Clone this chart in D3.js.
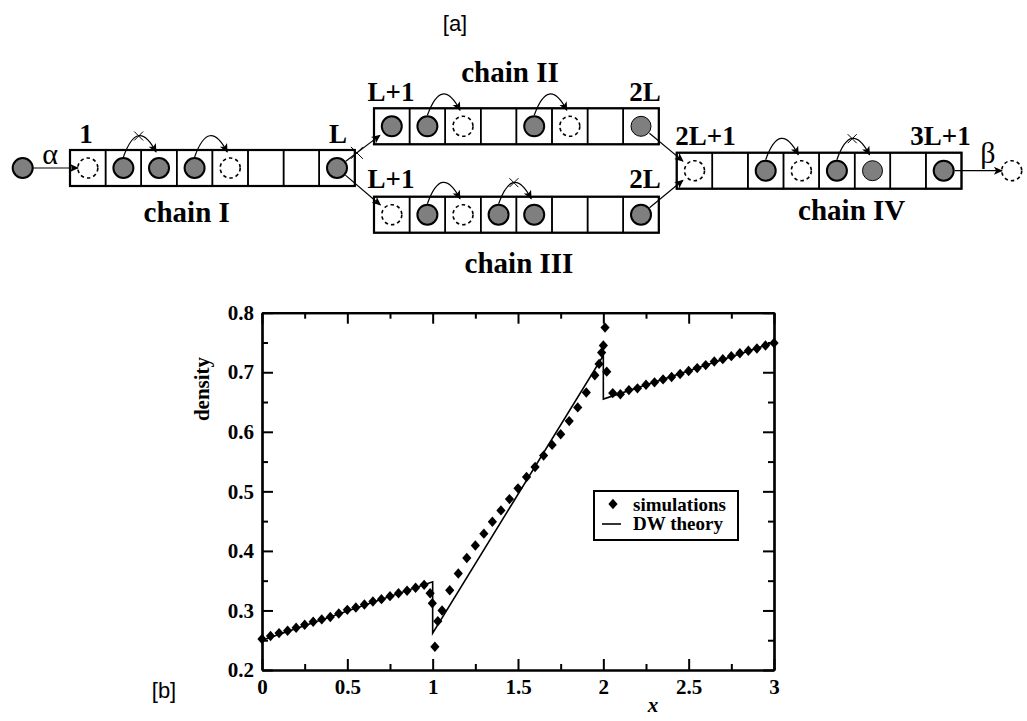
<!DOCTYPE html>
<html lang="en">
<head>
<meta charset="UTF-8">
<title>density</title>
<script src="https://cdn.jsdelivr.net/npm/d3@7"></script>
<style>
  body { margin: 0; background: #fff; }
  svg { display: block; }
</style>
</head>
<body>
<div id="workspace"></div>
<script>
// ---- panel [b] data ----
const simX = [0, 0.05, 0.1, 0.15, 0.2, 0.25, 0.3, 0.35, 0.4, 0.45, 0.5, 0.55, 0.6, 0.65, 0.7, 0.75, 0.8, 0.85, 0.9, 0.95,
  0.985, 0.998, 1.013, 1.03, 1.055,
  1.1, 1.15, 1.2, 1.25, 1.3, 1.35, 1.4, 1.45, 1.5, 1.55, 1.6, 1.65, 1.7, 1.75, 1.8, 1.85, 1.9, 1.95,
  1.975, 1.99, 2.0, 2.01, 2.02,
  2.055, 2.1, 2.15, 2.2, 2.25, 2.3, 2.35, 2.4, 2.45, 2.5, 2.55, 2.6, 2.65, 2.7, 2.75, 2.8, 2.85, 2.9, 2.95, 3.0];
const simY = [0.252, 0.257, 0.262, 0.266, 0.271, 0.276, 0.281, 0.285, 0.289, 0.295, 0.301, 0.305, 0.310, 0.315, 0.319, 0.324, 0.329, 0.333, 0.338, 0.343,
  0.329, 0.312, 0.239, 0.282, 0.300,
  0.334, 0.362, 0.388, 0.409, 0.429, 0.449, 0.468, 0.487, 0.505, 0.524, 0.541, 0.560, 0.578, 0.596, 0.618, 0.641, 0.666, 0.695,
  0.714, 0.733, 0.745, 0.775, 0.701,
  0.665, 0.663, 0.670, 0.673, 0.679, 0.683, 0.688, 0.692, 0.697, 0.702, 0.707, 0.712, 0.718, 0.722, 0.727, 0.732, 0.736, 0.740, 0.745, 0.749];
const theoryX = [0, 1, 1, 2, 2, 3];
const theoryY = [0.25, 0.348, 0.262, 0.728, 0.655, 0.75];
const xTicks = [0, 0.5, 1, 1.5, 2, 2.5, 3];
const xMinor = [0.25, 0.75, 1.25, 1.75, 2.25, 2.75];
const yTicks = [0.2, 0.3, 0.4, 0.5, 0.6, 0.7, 0.8];
const yMinor = [0.25, 0.35, 0.45, 0.55, 0.65, 0.75];
const legendLabels = ["simulations", "DW theory"];

// ---- panel [a] data: cell states (o filled, g filled thin, d dashed, e empty), hops [from, blocked] ----
const chainNames = ["chain I", "chain II", "chain III", "chain IV"];
const chainICells = ["d", "o", "o", "o", "d", "e", "e", "o"];
const chainIICells = ["o", "o", "d", "e", "o", "d", "e", "g"];
const chainIIICells = ["d", "o", "d", "o", "o", "e", "e", "o"];
const chainIVCells = ["d", "e", "o", "d", "o", "g", "e", "o"];
const chainIHops = [[1, true], [3, false]];
const chainIIHops = [[1, false], [4, false]];
const chainIIIHops = [[1, false], [3, true]];
const chainIVHops = [[2, false], [4, true]];

const W = 1027, H = 721;
const serif = "'Liberation Serif', 'Times New Roman', serif";
const sans = "'Liberation Sans', Arial, sans-serif";

const svg = d3.select("#workspace").append("svg")
  .attr("width", W).attr("height", H)
  .style("background", "#fff");

svg.append("defs").append("marker")
  .attr("id", "arr")
  .attr("viewBox", "0 0 10 10")
  .attr("refX", 9).attr("refY", 5)
  .attr("markerWidth", 12).attr("markerHeight", 9)
  .attr("markerUnits", "userSpaceOnUse")
  .attr("orient", "auto")
  .append("path").attr("d", "M0,0.5 L10,5 L0,9.5 L2.5,5 Z").attr("fill", "#000");

// ================= panel [a] =================
const cellW = 35.6, cellH = 36, R = 10;
const gray = "#7f7f7f";

function cross(g, cx, cy, s) {
  g.append("path")
    .attr("d", `M${cx - s},${cy - s}L${cx + s},${cy + s}M${cx - s},${cy + s}L${cx + s},${cy - s}`)
    .attr("stroke", "#000").attr("stroke-width", 1);
}

function drawChain(cells, hops, x0, y0) {
  const g = svg.append("g");
  const cx = i => x0 + cellW * (i + 0.5);
  const cy = y0 + cellH / 2;
  g.selectAll("rect")
    .data(cells)
    .join("rect")
    .attr("x", (d, i) => x0 + i * cellW).attr("y", y0)
    .attr("width", cellW).attr("height", cellH)
    .attr("fill", "none").attr("stroke", "#000").attr("stroke-width", 1.5);
  g.append("rect")
    .attr("x", x0).attr("y", y0)
    .attr("width", cellW * cells.length).attr("height", cellH)
    .attr("fill", "none").attr("stroke", "#000").attr("stroke-width", 2.2);
  g.selectAll("circle")
    .data(cells.map((c, i) => ({ c, i })).filter(d => d.c !== "e"))
    .join("circle")
    .attr("cx", d => cx(d.i)).attr("cy", cy).attr("r", R)
    .attr("fill", d => d.c === "d" ? "none" : gray)
    .attr("stroke", "#000")
    .attr("stroke-width", d => d.c === "o" ? 2 : d.c === "g" ? 1 : 1.6)
    .attr("stroke-dasharray", d => d.c === "d" ? "3.5,3" : null);
  hops.forEach(([i, blocked]) => {
    const xs = cx(i), ys = cy - R - 1;
    const xe = cx(i + 1) - 3, ye = y0 + 2;
    g.append("path")
      .attr("d", `M${xs},${ys} Q${(xs + xe) / 2 - 2},${y0 - 33} ${xe},${ye}`)
      .attr("fill", "none").attr("stroke", "#000").attr("stroke-width", 1.2)
      .attr("marker-end", "url(#arr)");
    if (blocked) cross(g, (xs + xe) / 2 - 1, y0 - 14, 4.5);
  });
  return { cx, cy };
}

const cI = drawChain(chainICells, chainIHops, 70, 150);
const cII = drawChain(chainIICells, chainIIHops, 374, 108.3);
const cIII = drawChain(chainIIICells, chainIIIHops, 374, 196.7);
const cIV = drawChain(chainIVCells, chainIVHops, 676.7, 152.7);

function link(a, ia, b, ib, blocked) {
  const ax = a.cx(ia), ay = a.cy, bx = b.cx(ib), by = b.cy;
  const len = Math.hypot(bx - ax, by - ay);
  const ux = (bx - ax) / len, uy = (by - ay) / len;
  const x1 = ax + ux * (R + 1), y1 = ay + uy * (R + 1);
  const x2 = bx - ux * (R + 5), y2 = by - uy * (R + 5);
  svg.append("line")
    .attr("x1", x1).attr("y1", y1).attr("x2", x2).attr("y2", y2)
    .attr("stroke", "#000").attr("stroke-width", 1.2)
    .attr("marker-end", "url(#arr)");
  if (blocked) cross(svg, x1 + ux * 14, y1 + uy * 14, 6);
}
link(cI, 7, cII, 0, true);
link(cI, 7, cIII, 0, false);
link(cII, 7, cIV, 0, false);
link(cIII, 7, cIV, 0, false);

// entry and exit particles
svg.append("circle").attr("cx", 22.7).attr("cy", cI.cy).attr("r", R)
  .attr("fill", gray).attr("stroke", "#000").attr("stroke-width", 2);
svg.append("line").attr("x1", 33).attr("y1", cI.cy).attr("x2", 78).attr("y2", cI.cy)
  .attr("stroke", "#000").attr("stroke-width", 1.2).attr("marker-end", "url(#arr)");
svg.append("line").attr("x1", cIV.cx(7) + R + 1).attr("y1", cIV.cy).attr("x2", 1002).attr("y2", cIV.cy)
  .attr("stroke", "#000").attr("stroke-width", 1.2).attr("marker-end", "url(#arr)");
svg.append("circle").attr("cx", 1011.7).attr("cy", cIV.cy).attr("r", R)
  .attr("fill", "none").attr("stroke", "#000").attr("stroke-width", 1.6).attr("stroke-dasharray", "3.5,3");

const greek = [["α", 50, 163.5], ["β", 988, 163]];
svg.selectAll("text.greek").data(greek).join("text")
  .attr("class", "greek")
  .attr("x", d => d[1]).attr("y", d => d[2])
  .attr("text-anchor", "middle")
  .style("font-family", serif).style("font-size", "30px")
  .text(d => d[0]);

const siteLabels = [
  ["1", 86, 143], ["L", 338, 143],
  ["L+1", 391, 100.7], ["2L", 645, 100.7],
  ["L+1", 391, 188.3], ["2L", 645, 188.3],
  ["2L+1", 705.5, 145], ["3L+1", 940.5, 145]
];
svg.selectAll("text.site").data(siteLabels).join("text")
  .attr("class", "site")
  .attr("x", d => d[1]).attr("y", d => d[2])
  .attr("text-anchor", "middle")
  .style("font-family", serif).style("font-weight", "bold").style("font-size", "27px")
  .text(d => d[0]);

const namePos = [[186.7, 221.7], [510, 82], [519, 273.3], [851.7, 220]];
svg.selectAll("text.name").data(chainNames).join("text")
  .attr("class", "name")
  .attr("x", (d, i) => namePos[i][0]).attr("y", (d, i) => namePos[i][1])
  .attr("text-anchor", "middle")
  .style("font-family", serif).style("font-weight", "bold").style("font-size", "29px")
  .text(d => d);

svg.append("text").attr("x", 455).attr("y", 31).attr("text-anchor", "middle")
  .style("font-family", sans).style("font-size", "22px").text("[a]");
svg.append("text").attr("x", 164).attr("y", 698).attr("text-anchor", "middle")
  .style("font-family", sans).style("font-size", "22px").text("[b]");

// ================= panel [b] =================
const x = d3.scaleLinear().domain([0, 3]).range([262, 774]);
const y = d3.scaleLinear().domain([0.2, 0.8]).range([670, 312.7]);
const pLeft = x.range()[0], pRight = x.range()[1], pTop = y.range()[1], pBottom = y.range()[0];

function styleAxis(g) {
  g.select(".domain").attr("stroke-width", 2.2);
  g.selectAll(".tick line").attr("stroke-width", 2);
  g.selectAll("text")
    .style("font-family", serif).style("font-weight", "bold").style("font-size", "21px")
    .attr("fill", "#000");
}

const fmt = d => String(d);
svg.append("g").attr("transform", `translate(0,${pBottom})`)
  .call(d3.axisBottom(x).tickValues(xTicks).tickFormat(fmt).tickSize(-11).tickSizeOuter(0).tickPadding(9))
  .call(styleAxis);
svg.append("g").attr("transform", `translate(0,${pBottom})`)
  .call(d3.axisBottom(x).tickValues(xMinor).tickFormat("").tickSize(-6).tickSizeOuter(0))
  .call(styleAxis);
svg.append("g").attr("transform", `translate(0,${pTop})`)
  .call(d3.axisTop(x).tickValues(xTicks).tickFormat("").tickSize(-11).tickSizeOuter(0))
  .call(styleAxis);
svg.append("g").attr("transform", `translate(0,${pTop})`)
  .call(d3.axisTop(x).tickValues(xMinor).tickFormat("").tickSize(-6).tickSizeOuter(0))
  .call(styleAxis);
svg.append("g").attr("transform", `translate(${pLeft},0)`)
  .call(d3.axisLeft(y).tickValues(yTicks).tickFormat(fmt).tickSize(-11).tickSizeOuter(0).tickPadding(8))
  .call(styleAxis);
svg.append("g").attr("transform", `translate(${pLeft},0)`)
  .call(d3.axisLeft(y).tickValues(yMinor).tickFormat("").tickSize(-6).tickSizeOuter(0))
  .call(styleAxis);
svg.append("g").attr("transform", `translate(${pRight},0)`)
  .call(d3.axisRight(y).tickValues(yTicks).tickFormat("").tickSize(-11).tickSizeOuter(0))
  .call(styleAxis);
svg.append("g").attr("transform", `translate(${pRight},0)`)
  .call(d3.axisRight(y).tickValues(yMinor).tickFormat("").tickSize(-6).tickSizeOuter(0))
  .call(styleAxis);

// theory line
const line = d3.line().x(d => x(d[0])).y(d => y(d[1]));
svg.append("path")
  .datum(theoryX.map((v, i) => [v, theoryY[i]]))
  .attr("d", line)
  .attr("fill", "none").attr("stroke", "#000").attr("stroke-width", 1.6);

// simulation diamonds
const diamond = "M0,-5.2L4.6,0L0,5.2L-4.6,0Z";
svg.append("g").selectAll("path")
  .data(simX.map((v, i) => [v, simY[i]]))
  .join("path")
  .attr("transform", d => `translate(${x(d[0])},${y(d[1])})`)
  .attr("d", diamond)
  .attr("fill", "#000");

// axis titles
svg.append("text")
  .attr("transform", "translate(209,389) rotate(-90)")
  .attr("text-anchor", "middle")
  .style("font-family", serif).style("font-weight", "bold").style("font-size", "21px")
  .text("density");
svg.append("text")
  .attr("x", 653).attr("y", 712).attr("text-anchor", "middle")
  .style("font-family", serif).style("font-weight", "bold").style("font-style", "italic").style("font-size", "21px")
  .text("x");

// legend
const lg = svg.append("g");
lg.append("rect").attr("x", 594).attr("y", 491).attr("width", 144).attr("height", 49)
  .attr("fill", "#fff").attr("stroke", "#000").attr("stroke-width", 2);
lg.append("path").attr("transform", "translate(613,504)").attr("d", diamond).attr("fill", "#000");
lg.append("line").attr("x1", 602).attr("x2", 621).attr("y1", 524).attr("y2", 524)
  .attr("stroke", "#000").attr("stroke-width", 1.6);
lg.selectAll("text").data(legendLabels).join("text")
  .attr("x", 633).attr("y", (d, i) => 511 + i * 19)
  .style("font-family", serif).style("font-weight", "bold").style("font-size", "19px")
  .text(d => d);
</script>
</body>
</html>
